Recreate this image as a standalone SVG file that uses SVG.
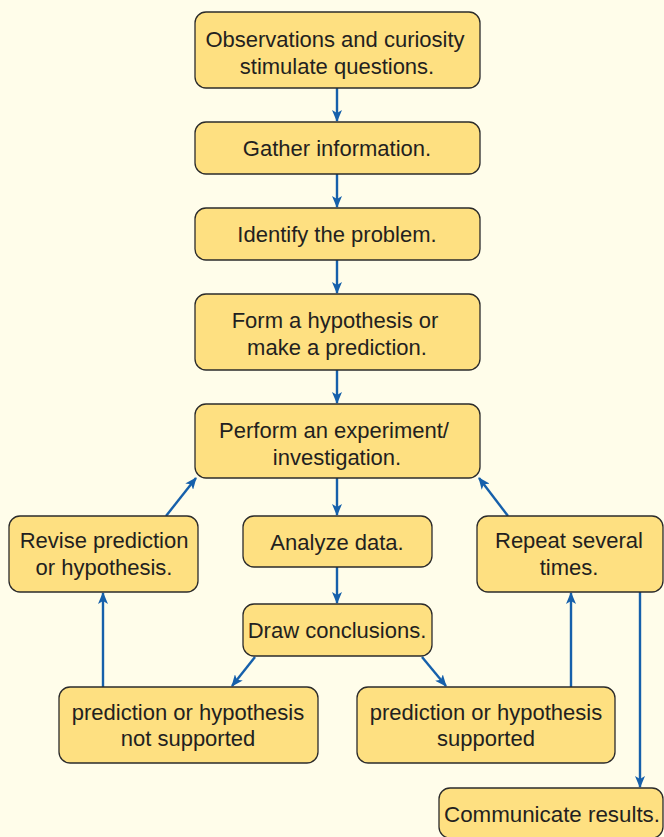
<svg xmlns="http://www.w3.org/2000/svg" width="664" height="837" viewBox="0 0 664 837">
<defs>
<style>
.box rect{fill:#FEE081;stroke:#2b2b2b;stroke-width:1.3}
.box text{font-family:"Liberation Sans",Arial,sans-serif;font-size:22px;fill:#231f20;text-anchor:middle}
.conn line{stroke:#1660AB;stroke-width:2.4;fill:none;marker-end:url(#ah)}
</style>
<marker id="ah" viewBox="0 0 12 10" refX="11" refY="5" markerWidth="12" markerHeight="10" markerUnits="userSpaceOnUse" orient="auto">
<path d="M0,0 L12,5 L0,10 L3,5 Z" fill="#1660AB"/>
</marker>
</defs>
<rect width="664" height="837" fill="#FFFDEA"/>
<g id="connectors" class="conn">
<line x1="337" y1="88" x2="337" y2="121"/>
<line x1="337" y1="174" x2="337" y2="207"/>
<line x1="337" y1="260" x2="337" y2="293"/>
<line x1="337" y1="370" x2="337" y2="403"/>
<line x1="337" y1="478" x2="337" y2="515"/>
<line x1="337" y1="567" x2="337" y2="603"/>
<line x1="166" y1="516" x2="196" y2="478"/>
<line x1="508" y1="516" x2="479" y2="478"/>
<line x1="255" y1="657" x2="232" y2="686"/>
<line x1="422" y1="657" x2="446" y2="686"/>
<line x1="103" y1="687" x2="103" y2="593"/>
<line x1="571" y1="687" x2="571" y2="593"/>
<line x1="640" y1="592" x2="640" y2="787"/>
</g>
<g id="observations" class="box"><rect x="195" y="12" width="285" height="76" rx="11"/><text x="335" y="47">Observations and curiosity</text><text x="337" y="74">stimulate questions.</text></g>
<g id="gather" class="box"><rect x="195" y="122" width="285" height="52" rx="11"/><text x="337" y="156">Gather information.</text></g>
<g id="identify" class="box"><rect x="195" y="208" width="285" height="52" rx="11"/><text x="337" y="242">Identify the problem.</text></g>
<g id="hypothesis" class="box"><rect x="195" y="294" width="285" height="76" rx="11"/><text x="335" y="328">Form a hypothesis or</text><text x="337" y="355">make a prediction.</text></g>
<g id="experiment" class="box"><rect x="195" y="404" width="285" height="74" rx="11"/><text x="334" y="438">Perform an experiment/</text><text x="337" y="465">investigation.</text></g>
<g id="revise" class="box"><rect x="9" y="516" width="189" height="76" rx="11"/><text x="104" y="548">Revise prediction</text><text x="104" y="575">or hypothesis.</text></g>
<g id="analyze" class="box"><rect x="243" y="516" width="189" height="51" rx="11"/><text x="337" y="550">Analyze data.</text></g>
<g id="repeat" class="box"><rect x="477" y="516" width="186" height="76" rx="11"/><text x="569" y="548">Repeat several</text><text x="569" y="575">times.</text></g>
<g id="conclusions" class="box"><rect x="243" y="604" width="189" height="52" rx="11"/><text x="337" y="638">Draw conclusions.</text></g>
<g id="notsupported" class="box"><rect x="59" y="687" width="259" height="76" rx="11"/><text x="188" y="720">prediction or hypothesis</text><text x="188" y="746">not supported</text></g>
<g id="supported" class="box"><rect x="357" y="687" width="258" height="76" rx="11"/><text x="486" y="720">prediction or hypothesis</text><text x="486" y="746">supported</text></g>
<g id="communicate" class="box"><rect x="439" y="788" width="224" height="50" rx="11"/><text x="552" y="822" textLength="216" lengthAdjust="spacingAndGlyphs">Communicate results.</text></g>
</svg>
